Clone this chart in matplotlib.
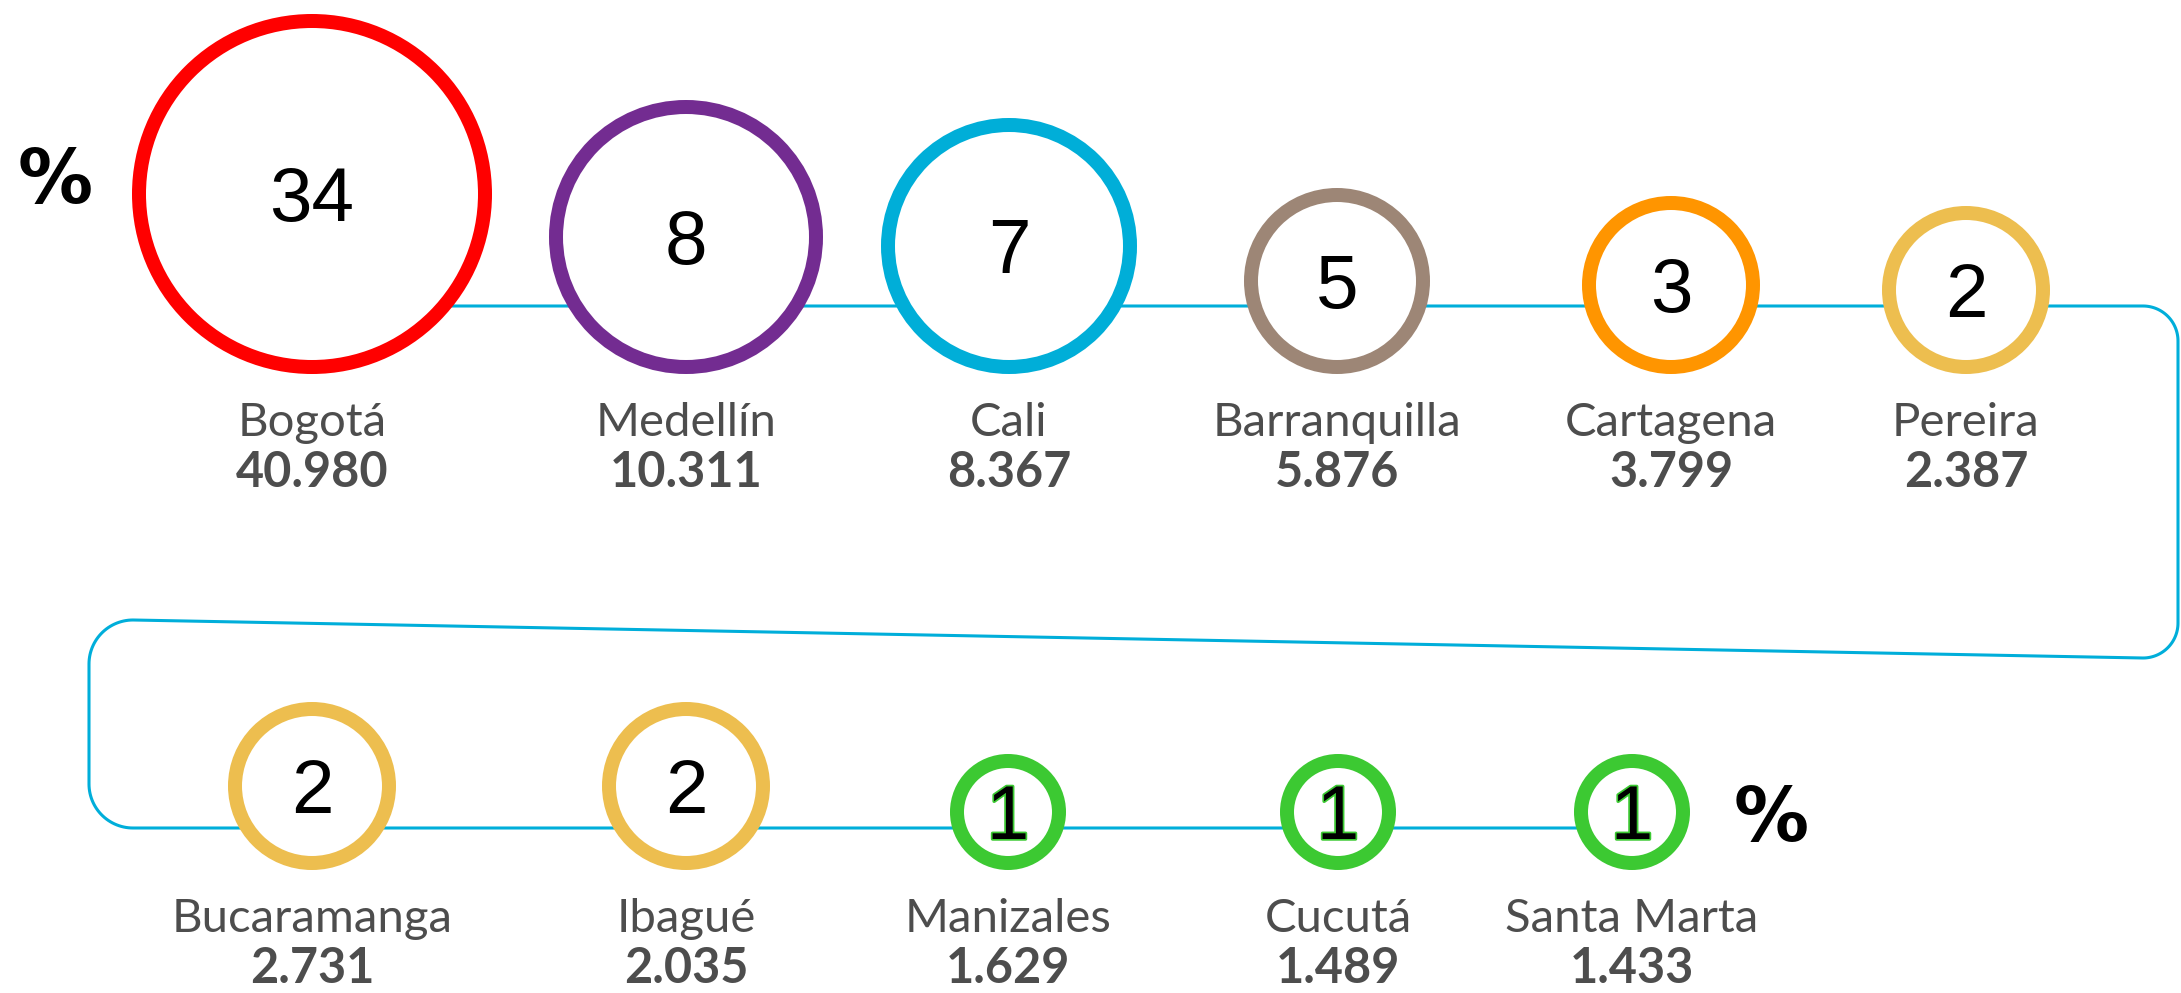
import numpy as np
import matplotlib.pyplot as plt
from matplotlib.patches import Circle
import matplotlib.patheffects as pe

# Datos
ciudades = ['Bogotá', 'Medellín', 'Cali', 'Barranquilla', 'Cartagena', 'Pereira',
            'Bucaramanga', 'Ibagué', 'Manizales', 'Cucutá', 'Santa Marta']
porcentaje = [34, 8, 7, 5, 3, 2, 2, 2, 1, 1, 1]
cantidad = [40980, 10311, 8367, 5876, 3799, 2387, 2731, 2035, 1629, 1489, 1433]
colores = ['#FF0000', '#732C91', '#00AED8', '#9D8676', '#FF9500', '#EDBE4F',
           '#EDBE4F', '#EDBE4F', '#3CC932', '#3CC932', '#3CC932']

# Disposición (px)
fila = [0, 0, 0, 0, 0, 0, 1, 1, 1, 1, 1]
x_centro = [312, 686, 1009, 1337, 1671, 1966, 312, 686, 1008, 1338, 1632]
radio = [180, 137, 128, 93, 89, 84, 84, 84, 58, 58, 58]
base_circulo = [374, 870]
grosor = 14  # px
azul = '#00AEDA'
gris = '#4D4D4D'

W, H = 2181, 993
fig = plt.figure(figsize=(W / 100, H / 100), dpi=100)
ax = fig.add_axes([0, 0, 1, 1])
ax.set_xlim(0, W)
ax.set_ylim(H, 0)
ax.axis('off')


def arco(cx, cy, r, a0, a1, n=30):
    t = np.radians(np.linspace(a0, a1, n))
    return list(zip(cx + r * np.cos(t), cy + r * np.sin(t)))


# Línea conectora
pts = [(312, 306)]
pts += arco(2143, 341, 35, -90, 0)
pts += arco(2143, 623, 35, 0, 90)
pts += arco(133, 664, 44, -90, -180)
pts += arco(133, 784, 44, 180, 90)
pts += [(1632, 828)]
pts = np.array(pts)
ax.plot(pts[:, 0], pts[:, 1], color=azul, lw=2.2, zorder=1, solid_capstyle='round')

lw_pt = grosor * 72 / 100
for i, ciudad in enumerate(ciudades):
    cx = x_centro[i]
    r = radio[i]
    cy = base_circulo[fila[i]] - r
    ax.add_patch(Circle((cx, cy), r - grosor / 2, facecolor='white',
                        edgecolor=colores[i], lw=lw_pt, zorder=3))
    efectos = None
    if porcentaje[i] == 1:
        efectos = [pe.withStroke(linewidth=2.5, foreground=colores[i])]
    ax.text(cx, cy + 27, str(porcentaje[i]), ha='center', va='baseline',
            fontsize=55, family='Liberation Sans', color='black', zorder=4,
            path_effects=efectos)
    yb = base_circulo[fila[i]] + 62
    ax.text(cx, yb, ciudad, ha='center', va='baseline', fontsize=34,
            family='Lato', fontweight='normal', color=gris)
    ax.text(cx, yb + 51, f"{cantidad[i]:,}".replace(',', '.'), ha='center',
            va='baseline', fontsize=35, family='Lato', fontweight='bold', color=gris)

ax.text(55, 182, '%', ha='center', va='center', fontsize=54,
        family='DejaVu Sans', fontweight='bold', color='black')
ax.text(1771, 820, '%', ha='center', va='center', fontsize=54,
        family='DejaVu Sans', fontweight='bold', color='black')

fig.savefig('out.png', dpi=100, facecolor='white')
